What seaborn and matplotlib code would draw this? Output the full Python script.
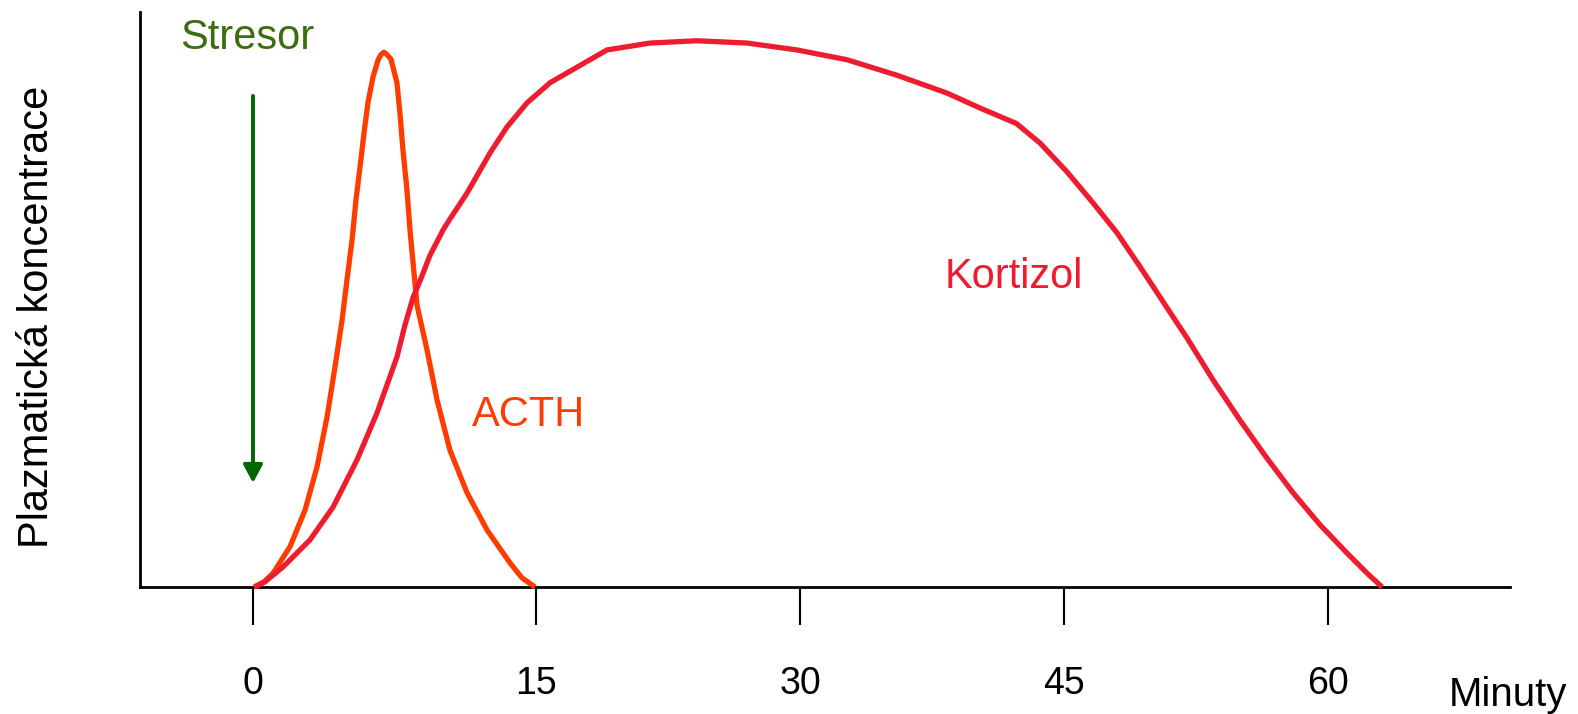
import pandas as pd
import matplotlib
matplotlib.use("Agg")
import matplotlib.pyplot as plt
import seaborn as sns

# ACTH: cas (minuty) a plazmaticka koncentrace (% vysky osy)
acth_min = [-1.02, -0.45, 0.06, 1.02, 1.88, 2.56, 3.13, 3.58, 3.98, 4.26, 4.55, 4.77,
            5.00, 5.23, 5.45, 5.74, 6.02, 6.19, 6.36, 6.53, 6.76, 7.10, 7.27, 7.44,
            7.67, 7.84, 8.07, 8.24, 8.81, 9.38, 10.11, 11.08, 12.22, 13.52, 14.20, 14.94]
acth_conc = [0.0, 0.9, 2.4, 7.0, 13.4, 20.9, 29.6, 38.3, 46.4, 53.4, 60.4, 67.3,
             73.0, 79.0, 84.2, 88.7, 91.6, 92.6, 93.0, 92.6, 91.8, 87.7, 82.4, 76.0,
             69.0, 62.1, 54.6, 49.0, 41.2, 32.5, 23.8, 16.4, 9.9, 4.2, 1.6, 0.0]

# Kortizol
kort_min = [-0.97, -0.40, 0.63, 2.16, 3.47, 4.83, 5.97, 7.10, 7.56, 8.01, 8.47, 8.98,
            9.72, 10.11, 11.08, 12.39, 13.35, 14.49, 15.80, 17.33, 19.03, 21.48, 24.15,
            26.99, 29.83, 32.67, 35.51, 38.35, 40.23, 42.30, 43.64, 45.17, 46.65,
            48.01, 49.32, 50.63, 51.99, 53.47, 55.00, 56.53, 58.01, 59.55, 61.08, 62.22,
            63.07]
kort_conc = [0.0, 0.9, 3.5, 8.2, 13.9, 22.1, 30.3, 40.0, 45.6, 50.3, 53.7, 57.7,
             62.1, 64.0, 68.5, 75.5, 80.0, 84.2, 87.7, 90.4, 93.4, 94.6, 95.0,
             94.6, 93.4, 91.7, 89.0, 85.9, 83.3, 80.6, 77.2, 72.2, 66.8,
             61.6, 55.7, 49.6, 43.3, 36.0, 29.0, 22.4, 16.4, 10.8, 5.9, 2.4,
             0.0]

# osa x - znacky tak, jak jsou nakreslene
tick_pos = [-1.08, 15, 30, 45, 60]
tick_labels = ["0", "15", "30", "45", "60"]

# stresor - sipka (minuty, koncentrace)
stresor_x = -1.08
stresor_od = 85.4
stresor_do = 18.1

df = pd.DataFrame({
    "minuty": acth_min + kort_min,
    "koncentrace": acth_conc + kort_conc,
    "hormon": ["ACTH"] * len(acth_min) + ["Kortizol"] * len(kort_min),
})

sns.set_theme(style="white")
plt.rcParams["font.family"] = ["Liberation Sans", "DejaVu Sans"]

W, H = 1578, 714
fig = plt.figure(figsize=(W / 100, H / 100), dpi=100)
ax = fig.add_axes([140 / W, 1 - 587 / H, (1510 - 140) / W, (587 - 12) / H])

barvy = {"ACTH": "#ff3c00", "Kortizol": "#ee1c2e"}
sns.lineplot(data=df, x="minuty", y="koncentrace", hue="hormon", palette=barvy,
             linewidth=3.8, legend=False, ax=ax, estimator=None, sort=False)
for ln in ax.lines:
    ln.set_clip_on(False)
    ln.set_zorder(4)
    ln.set_solid_capstyle("butt")
    ln.set_solid_joinstyle("round")

ax.set_xlim(-7.5, 70.34)
ax.set_ylim(0, 100)
ax.set_xticks(tick_pos)
ax.set_xticklabels(tick_labels)
ax.set_yticks([])
ax.set_xlabel("")
ax.set_ylabel("")
ax.tick_params(axis="x", direction="out", length=27, width=1.5, color="black",
               pad=30, labelsize=27, labelcolor="black", bottom=True)
for s in ["top", "right"]:
    ax.spines[s].set_visible(False)
for s in ["left", "bottom"]:
    ax.spines[s].set_color("black")
    ax.spines[s].set_linewidth(2.0)

ax.annotate("", xy=(stresor_x, stresor_do), xytext=(stresor_x, stresor_od),
            arrowprops=dict(arrowstyle="-|>,head_length=0.54,head_width=0.29",
                            color="#006600", lw=2.8, mutation_scale=20,
                            shrinkA=0, shrinkB=0))

ax.text(-1.42, 95.5, "Stresor", color="#3a6e0f", fontsize=30, ha="center", va="center")
ax.text(14.55, 29.9, "ACTH", color="#ff3c00", fontsize=30, ha="center", va="center")
ax.text(42.16, 53.9, "Kortizol", color="#ee1c2e", fontsize=30, ha="center", va="center")

fig.text(37 / W, 1 - 317 / H, "Plazmatická koncentrace", rotation=90, fontsize=30,
         ha="center", va="center", color="black")
fig.text(1567 / W, 1 - 695 / H, "Minuty", fontsize=29, ha="right", va="center",
         color="black")

fig.savefig("out.png", dpi=100)
